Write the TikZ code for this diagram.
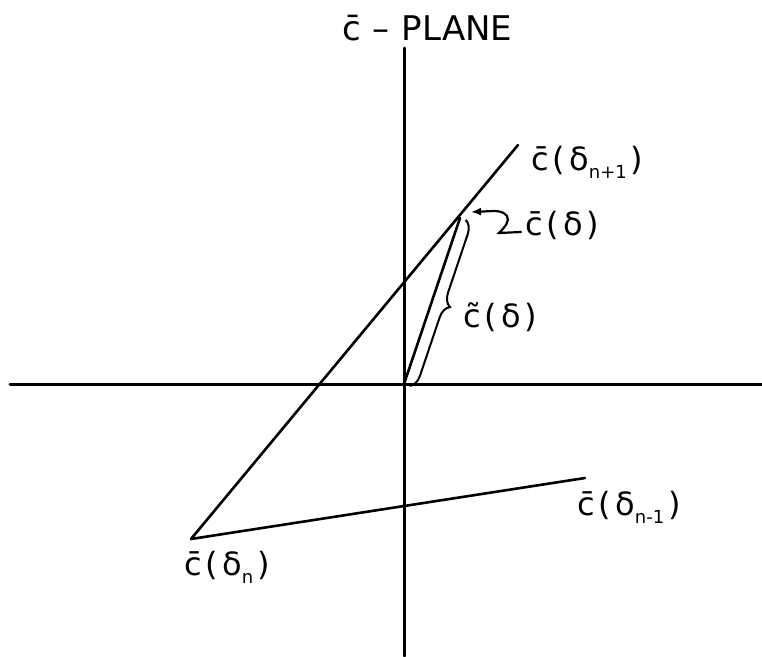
\documentclass[tikz,border=0pt]{standalone}
\usepackage{fontspec}
\setmainfont{DejaVu Sans}
\usetikzlibrary{arrows.meta, decorations.pathreplacing}
\newcommand{\cbar}{\=c}
\newcommand{\ctil}{\~c}
\newcommand{\hs}{\kern4pt}
\newcommand{\lowidx}[1]{\raisebox{-8pt}{\fontsize{18}{18}\selectfont #1}}

\begin{document}
\begin{tikzpicture}[x=1pt, y=-1pt,
    axis/.style={line width=3pt, line cap=round},
    curve/.style={line width=2.6pt, line cap=round},
    lbl/.style={font=\fontsize{32}{34}\selectfont, inner sep=0pt, anchor=base west}]
    \useasboundingbox (0,0) rectangle (762,656);

    % Axes
    \coordinate (xl) at (10,384);
    \coordinate (xr) at (762,384);
    \coordinate (yt) at (404,48);
    \coordinate (yb) at (404,656);
    \draw[axis] (xl) -- (xr);
    \draw[axis] (yt) -- (yb);

    % Points
    \coordinate (O) at (404,384);
    \coordinate (P) at (460,218);
    \coordinate (A) at (191,539);
    \coordinate (B) at (518,145);
    \coordinate (D) at (585,478);
    \coordinate (tip) at (471,212);

    % Lines
    \draw[curve] (A) -- (B);
    \draw[curve] (A) -- (D);
    \draw[curve] (O) -- (P);

    % Brace
    \draw[line width=2pt, decorate, decoration={brace, amplitude=13pt, raise=6pt}] (P) -- (O);

    % Labels
    \node[font=\fontsize{34}{36}\selectfont, inner sep=0pt, anchor=base west] (title) at (342,40) {\cbar\kern12pt–\kern12pt PLANE};
    \node[lbl] (lab_np1) at (531,170) {\cbar\hs(\hs δ\lowidx{n+1}\hs)};
    \node[lbl] (lab_d) at (525,235) {\cbar\hs(\hs δ\hs)};
    \node[lbl] (lab_t) at (463,327) {\ctil\hs(\hs δ\hs)};
    \node[lbl] (lab_n) at (184,575) {\cbar\hs(\hs δ\lowidx{n}\hs)};
    \node[lbl] (lab_nm1) at (577,515) {\cbar\hs(\hs δ\lowidx{n-1}\hs)};

    % Pointer
    \draw[line width=2.2pt, line cap=round, -{Latex[length=10pt, width=8pt]}] ([xshift=-4pt, yshift=3pt]lab_d.base west) -- (499,233) .. controls (505,227) and (510,221) .. (507,216) .. controls (504,212) and (499,211) .. (494,211) -- (tip);
\end{tikzpicture}
\end{document}
